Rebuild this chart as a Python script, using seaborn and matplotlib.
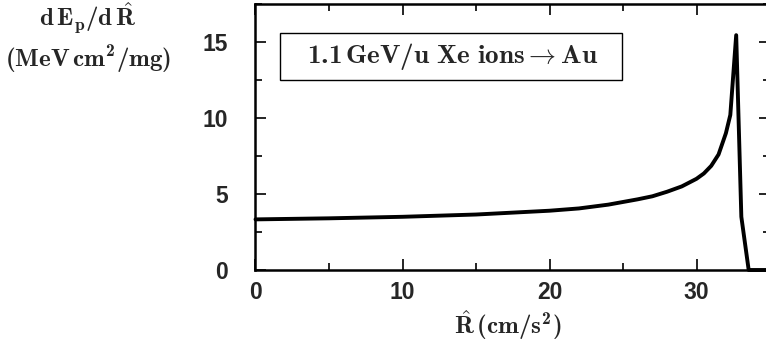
import matplotlib
matplotlib.use("Agg")
import matplotlib.pyplot as plt
from matplotlib.ticker import MultipleLocator
from matplotlib.patches import Rectangle
import seaborn as sns
import pandas as pd

# Stopping power of 1.1 GeV/u Xe ions in Au versus range
range_cm = [0, 5, 10, 15, 20, 22, 24, 26, 27, 28, 29, 30, 30.5, 31, 31.5,
            32, 32.3, 32.7, 33.05, 33.55, 35]
dedx = [3.33, 3.4, 3.5, 3.65, 3.9, 4.05, 4.3, 4.65, 4.85, 5.15, 5.5, 6.0,
        6.35, 6.85, 7.6, 9.0, 10.2, 15.45, 3.5, 0.0, 0.0]

x_ticks = [0, 10, 20, 30]
y_ticks = [0, 5, 10, 15]

sns.set_style("ticks")
plt.rcParams["mathtext.fontset"] = "custom"
plt.rcParams["mathtext.rm"] = "cmr10"
plt.rcParams["mathtext.it"] = "cmmi10"
plt.rcParams["mathtext.bf"] = "cmb10"
plt.rcParams["mathtext.fallback"] = "cm"
plt.rcParams["font.family"] = ["Liberation Sans", "DejaVu Sans"]

W, H = 766, 347
fig = plt.figure(figsize=(W / 100, H / 100), dpi=100)
ax = fig.add_axes([255.5 / W, (H - 270) / H, (770 - 255.5) / W, (270 - 4) / H])

df = pd.DataFrame({"R": range_cm, "dE": dedx})
sns.lineplot(data=df, x="R", y="dE", ax=ax, color="black", linewidth=2.8,
             sort=False, estimator=None, clip_on=False, zorder=5)

ax.set_xlim(0, 35)
ax.set_ylim(0, 17.5)
ax.set_xticks(x_ticks)
ax.set_yticks(y_ticks)
ax.xaxis.set_minor_locator(MultipleLocator(5))
ax.yaxis.set_minor_locator(MultipleLocator(2.5))
ax.tick_params(which="both", direction="in", top=True, right=True,
               width=1.2, color="black")
ax.tick_params(which="major", length=8)
ax.tick_params(which="minor", length=5)
ax.tick_params(axis="y", which="major", pad=20)
ax.tick_params(axis="x", which="major", pad=8)
for lab in ax.get_xticklabels() + ax.get_yticklabels():
    lab.set_fontsize(16.5)
    lab.set_fontweight("bold")
for sp in ax.spines.values():
    sp.set_linewidth(1.8)
    sp.set_color("black")
ax.set_xlabel("")
ax.set_ylabel("")

fig.text(88 / W, 1 - 18 / H, r"$\mathbf{d\,E_p/d\,\hat{R}}$",
         ha="center", va="center", fontsize=18)
fig.text(88 / W, 1 - 60 / H, r"$\mathbf{(MeV\,cm^2/mg)}$",
         ha="center", va="center", fontsize=18)
fig.text(508 / W, 1 - 325 / H, r"$\mathbf{\hat{R}\,(cm/s^2)}$",
         ha="center", va="center", fontsize=18)

# annotation box
fig.add_artist(Rectangle((280 / W, 1 - 80 / H), 342 / W, 47 / H,
                         transform=fig.transFigure, facecolor="white",
                         edgecolor="black", linewidth=1.0, zorder=6))
fig.text(453 / W, 1 - 57 / H, r"$\mathbf{1.1\,GeV/u\ Xe\ ions \rightarrow Au}$",
         ha="center", va="center", fontsize=19.5, zorder=7)

fig.savefig("out.png", dpi=100)
